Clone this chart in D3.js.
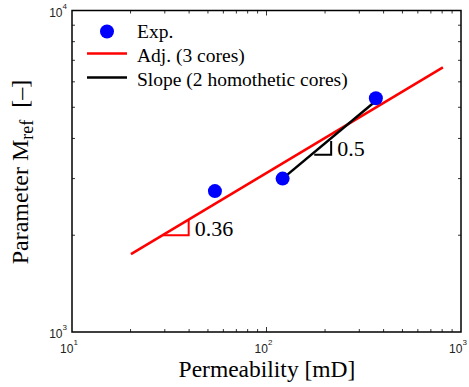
<!DOCTYPE html>
<html>
<head>
<meta charset="utf-8">
<script src="https://cdn.jsdelivr.net/npm/d3@7"></script>
<style>
  html, body { margin: 0; padding: 0; background: #fff; }
  svg { display: block; }
  .serif { font-family: "Liberation Serif", "Tinos", "Times New Roman", Times, "DejaVu Serif", serif; }
  .sans { font-family: "Liberation Sans", Arial, Helvetica, sans-serif; }
</style>
</head>
<body>
<svg id="chart" width="469" height="387"></svg>
<script>
// ---- data ----
const expPermeability = [54.3, 121, 365];
const expParameter = [2743, 3000, 5333];
const adjPermeability = [20.1, 807];
const adjParameter = [1746, 6654];
const slopePermeability = [121, 367];
const slopeParameter = [3000, 5250];
const redTriangle = { x: [29.4, 39.8], y: [2000, 2000, 2230], label: "0.36" };
const blackTriangle = { x: [176, 215], y: [3560, 3560, 3930], label: "0.5" };
const xTickExponents = [1, 2, 3];
const yTickExponents = [3, 4];
const legendLabels = ["Exp.", "Adj. (3 cores)", "Slope (2 homothetic cores)"];

// ---- layout ----
const L = 72, R = 461, T = 10.5, B = 332;
const svg = d3.select("#chart");

const x = d3.scaleLog().domain([10, 1000]).range([L, R]);
const y = d3.scaleLog().domain([1000, 10000]).range([B, T]);

// minor ticks (inward, all four sides)
const xMinor = [], yMinor = [];
for (let d = 10; d < 1000; d *= 10) for (let k = 2; k <= 9; k++) xMinor.push(d * k);
for (let k = 2; k <= 9; k++) yMinor.push(1000 * k);

const g = svg.append("g").attr("stroke", "#000").attr("stroke-width", 0.8);
xMinor.forEach(v => {
  g.append("line").attr("x1", x(v)).attr("x2", x(v)).attr("y1", B).attr("y2", B - 3);
  g.append("line").attr("x1", x(v)).attr("x2", x(v)).attr("y1", T).attr("y2", T + 3);
});
[100].forEach(v => {
  g.append("line").attr("x1", x(v)).attr("x2", x(v)).attr("y1", B).attr("y2", B - 5);
  g.append("line").attr("x1", x(v)).attr("x2", x(v)).attr("y1", T).attr("y2", T + 5);
});
yMinor.forEach(v => {
  g.append("line").attr("x1", L).attr("x2", L + 3).attr("y1", y(v)).attr("y2", y(v));
  g.append("line").attr("x1", R).attr("x2", R - 3).attr("y1", y(v)).attr("y2", y(v));
});

// frame
svg.append("rect").attr("x", L).attr("y", T).attr("width", R - L).attr("height", B - T)
  .attr("fill", "none").attr("stroke", "#000").attr("stroke-width", 1.5);

// tick labels
xTickExponents.forEach(e => {
  const t = svg.append("text").attr("class", "sans").attr("x", x(Math.pow(10, e)) - 3).attr("y", 353)
    .attr("text-anchor", "middle").attr("font-size", 12).attr("fill", "#222");
  t.append("tspan").text("10");
  t.append("tspan").attr("dy", -8).attr("font-size", 8).text(e);
});
yTickExponents.forEach(e => {
  const t = svg.append("text").attr("class", "sans").attr("x", 67).attr("y", y(Math.pow(10, e)) + 6)
    .attr("text-anchor", "end").attr("font-size", 12).attr("fill", "#222");
  t.append("tspan").text("10");
  t.append("tspan").attr("dy", -8).attr("font-size", 8).text(e);
});

// axis labels
svg.append("text").attr("class", "serif").attr("x", 267).attr("y", 377).attr("text-anchor", "middle")
  .attr("font-size", 23.5).text("Permeability [mD]");
const yl = svg.append("text").attr("class", "serif").attr("transform", "translate(28,172) rotate(-90)")
  .attr("text-anchor", "middle").attr("font-size", 24);
yl.append("tspan").text("Parameter M");
yl.append("tspan").attr("dy", 5).attr("font-size", 18).text("ref");
yl.append("tspan").attr("dy", -5).text("\u00a0\u00a0[\u2013]");

// fitted red line
const line = d3.line().x(d => x(d[0])).y(d => y(d[1]));
svg.append("path").datum(d3.zip(adjPermeability, adjParameter)).attr("d", line)
  .attr("fill", "none").attr("stroke", "#ff0000").attr("stroke-width", 2.5);

// slope triangles
function triangle(tri, color) {
  const pts = [[tri.x[0], tri.y[0]], [tri.x[1], tri.y[1]], [tri.x[1], tri.y[2]]];
  svg.append("path").datum(pts).attr("d", d3.line().x(d => x(d[0])).y(d => y(d[1])))
    .attr("fill", "none").attr("stroke", color).attr("stroke-width", 2);
  svg.append("text").attr("class", "serif").attr("x", x(tri.x[1]) + 6).attr("y", y(tri.y[0]) + 1)
    .attr("font-size", 22).text(tri.label);
}
triangle(redTriangle, "#ff0000");

// black slope line
svg.append("path").datum(d3.zip(slopePermeability, slopeParameter)).attr("d", line)
  .attr("fill", "none").attr("stroke", "#000").attr("stroke-width", 2.5);
triangle(blackTriangle, "#000");

// points
svg.selectAll("circle.pt").data(d3.zip(expPermeability, expParameter)).enter().append("circle")
  .attr("class", "pt").attr("cx", d => x(d[0])).attr("cy", d => y(d[1])).attr("r", 7).attr("fill", "#0000ff");

// legend
const lg = svg.append("g");
lg.append("circle").attr("cx", 107).attr("cy", 31.5).attr("r", 7).attr("fill", "#0000ff");
lg.append("line").attr("x1", 87).attr("x2", 127).attr("y1", 53.5).attr("y2", 53.5).attr("stroke", "#ff0000").attr("stroke-width", 2.5);
lg.append("line").attr("x1", 87).attr("x2", 127).attr("y1", 77.5).attr("y2", 77.5).attr("stroke", "#000").attr("stroke-width", 2.5);
legendLabels.forEach((s, i) => {
  lg.append("text").attr("class", "serif").attr("x", 137).attr("y", 38 + i * 24).attr("font-size", 19.5).text(s);
});
</script>
</body>
</html>
